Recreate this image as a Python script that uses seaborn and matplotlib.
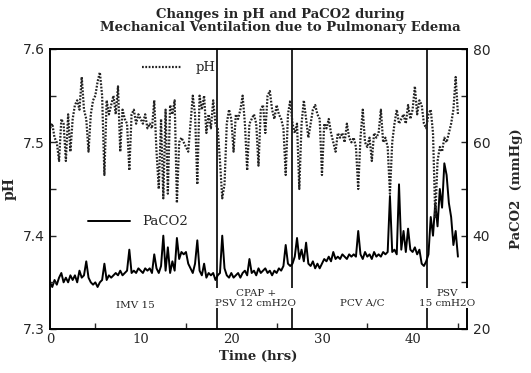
import numpy as np
import pandas as pd
import seaborn as sns
import matplotlib
matplotlib.use("Agg")
import matplotlib.pyplot as plt
from matplotlib.ticker import MultipleLocator

# ---------------- data (one row = one hour, 15-min samples) ----
sample_step_hrs = 0.25
ph_values = [
    7.515, 7.520, 7.505, 7.500,
    7.480, 7.525, 7.520, 7.480,
    7.530, 7.490, 7.525, 7.540,
    7.545, 7.535, 7.570, 7.535,
    7.525, 7.490, 7.530, 7.545,
    7.550, 7.565, 7.575, 7.550,
    7.465, 7.545, 7.530, 7.540,
    7.550, 7.530, 7.560, 7.490,
    7.535, 7.525, 7.520, 7.470,
    7.530, 7.535, 7.520, 7.530,
    7.525, 7.520, 7.530, 7.515,
    7.520, 7.515, 7.545, 7.490,
    7.450, 7.525, 7.440, 7.535,
    7.445, 7.540, 7.530, 7.545,
    7.435, 7.500, 7.505, 7.500,
    7.495, 7.490, 7.520, 7.550,
    7.530, 7.455, 7.550, 7.535,
    7.550, 7.510, 7.530, 7.515,
    7.545, 7.520, 7.515, 7.480,
    7.440, 7.455, 7.520, 7.535,
    7.525, 7.490, 7.530, 7.525,
    7.535, 7.550, 7.520, 7.470,
    7.520, 7.525, 7.530, 7.520,
    7.475, 7.535, 7.540, 7.510,
    7.550, 7.555, 7.535, 7.525,
    7.540, 7.530, 7.525, 7.515,
    7.465, 7.530, 7.545, 7.520,
    7.510, 7.520, 7.450, 7.520,
    7.545, 7.525, 7.505, 7.520,
    7.535, 7.540, 7.530, 7.525,
    7.465, 7.520, 7.515, 7.525,
    7.510, 7.500, 7.490, 7.510,
    7.505, 7.510, 7.500, 7.520,
    7.505, 7.500, 7.505, 7.495,
    7.450, 7.505, 7.535, 7.500,
    7.495, 7.505, 7.480, 7.510,
    7.505, 7.510, 7.535, 7.500,
    7.505, 7.495, 7.445, 7.500,
    7.520, 7.535, 7.520, 7.525,
    7.530, 7.520, 7.540, 7.525,
    7.535, 7.560, 7.530, 7.545,
    7.540, 7.520, 7.515, 7.530,
    7.535, 7.510, 7.420, 7.480,
    7.495, 7.490, 7.505, 7.500,
    7.510, 7.520, 7.535, 7.570,
    7.530,
]
paco2_values = [
    30.0, 29.0, 30.5, 29.5,
    31.0, 32.0, 30.0, 31.0,
    30.0, 31.5, 30.5, 31.5,
    30.0, 32.5, 31.0, 31.5,
    34.5, 31.0, 30.0, 29.5,
    30.0, 29.0, 30.0, 30.5,
    34.0, 30.5, 31.5, 31.0,
    31.5, 32.0, 31.5, 32.5,
    31.5, 32.0, 32.5, 37.0,
    32.0, 32.5, 32.0, 33.0,
    32.5, 32.0, 33.0, 32.5,
    33.0, 32.0, 36.0, 33.0,
    32.0, 33.5, 40.0, 32.5,
    37.5, 32.0, 34.5, 32.5,
    39.5, 35.0, 36.5, 36.0,
    36.5, 34.0, 33.0, 32.0,
    34.0, 39.0, 32.5, 31.5,
    34.0, 31.0, 32.0, 31.5,
    32.0, 30.5, 31.5, 32.0,
    40.0, 33.0, 31.5, 31.0,
    32.0, 31.0, 31.5, 32.0,
    31.0, 32.0, 32.5, 31.5,
    35.0, 32.0, 32.5, 31.5,
    33.0, 32.0, 32.5, 33.0,
    32.0, 32.5, 31.5, 32.5,
    32.0, 33.0, 32.5, 33.5,
    38.0, 34.0, 33.5, 34.0,
    35.5, 39.5, 35.0, 37.0,
    34.5, 38.5, 34.0, 33.5,
    34.5, 33.0, 34.0, 33.0,
    34.0, 35.0, 34.5, 35.5,
    34.5, 36.5, 35.0, 35.5,
    35.0, 36.0, 35.5, 35.0,
    36.0, 35.5, 36.0, 35.5,
    41.0, 36.0, 35.0, 36.5,
    35.5, 36.0, 35.0, 36.5,
    35.5, 36.0, 35.5, 36.5,
    36.0, 36.5, 48.5, 36.5,
    37.0, 36.0, 51.0, 37.0,
    41.0, 36.5, 41.5, 37.0,
    36.5, 37.5, 36.0, 37.0,
    34.0, 33.5, 34.5, 36.0,
    44.0, 40.0, 47.0, 42.0,
    50.0, 46.0, 55.5, 53.0,
    47.0, 44.0, 38.0, 41.0,
    35.5,
]
time_hrs = np.arange(len(ph_values)) * sample_step_hrs

mode_change_hrs = [18.4, 26.7, 41.6]
mode_labels = ["IMV 15", "CPAP +\nPSV 12 cmH2O", "PCV A/C", "PSV\n15 cmH2O"]
mode_label_hrs = [9.4, 22.7, 34.4, 43.8]

title_text = "Changes in pH and PaCO2 during\nMechanical Ventilation due to Pulmonary Edema"

df = pd.DataFrame({"Time (hrs)": time_hrs, "pH": ph_values, "PaCO2": paco2_values})

# ---------------- figure ----------------
sns.set_style("ticks")
plt.rcParams["font.family"] = ["DejaVu Serif"]
plt.rcParams["axes.linewidth"] = 1.2

W, H = 531, 373
fig = plt.figure(figsize=(W / 100, H / 100), dpi=100)
ax = fig.add_axes([50 / W, 1 - 329 / H, 417 / W, 280 / H])
ax2 = ax.twinx()

sns.lineplot(data=df, x="Time (hrs)", y="PaCO2", ax=ax2, color="black",
             linewidth=1.4, label="PaCO2", legend=False)
sns.lineplot(data=df, x="Time (hrs)", y="pH", ax=ax, color="#222222",
             linestyle=(0, (0.8, 0.7)), linewidth=1.6, label="pH", legend=False)

ax.set_zorder(ax2.get_zorder() + 1)
ax.patch.set_visible(False)

for t in mode_change_hrs:
    ax.axvline(t, color="black", linewidth=1.2, zorder=1)

ax.set_xlim(0, 46)
ax.set_ylim(7.3, 7.6)
ax2.set_ylim(20, 80)
ax.set_yticks([7.3, 7.4, 7.5, 7.6])
ax.set_yticklabels(["7.3", "7.4", "7.5", "7.6"])
ax2.set_yticks([20, 40, 60, 80])
ax.set_xticks([0, 10, 20, 30, 40])
ax.xaxis.set_minor_locator(MultipleLocator(5))
ax.yaxis.set_minor_locator(MultipleLocator(0.05))
ax2.yaxis.set_minor_locator(MultipleLocator(10))

ax.tick_params(axis="both", which="both", direction="in", length=4, width=1)
ax.tick_params(axis="x", which="major", length=0, labelsize=9.5, pad=3)
ax.tick_params(axis="y", which="major", labelsize=10, labelfontfamily="DejaVu Sans", pad=4)
ax2.tick_params(axis="y", which="both", direction="in", length=4, width=1,
                labelsize=10, labelfontfamily="DejaVu Sans", pad=4)

for sp in ax.spines.values():
    sp.set_color("black")
for sp in ax2.spines.values():
    sp.set_color("black")

ax.set_xlabel("Time (hrs)", fontsize=9.5, fontweight="bold", labelpad=3)
ax.set_ylabel("pH", fontsize=10, fontweight="bold", labelpad=4)
ax2.set_ylabel("PaCO2  (mmHg)", fontsize=9.5, fontweight="bold", labelpad=14)

# mode annotations
box = dict(facecolor="white", edgecolor="none", pad=0.6)
label_y = [7.3256, 7.3330, 7.3280, 7.3330]
for txt, tx, ty in zip(mode_labels, mode_label_hrs, label_y):
    ax.text(tx, ty, txt, ha="center", va="center", fontsize=7.5,
            linespacing=1.1, bbox=box, zorder=5)

# legends
leg1 = ax.legend(loc="center left", bbox_to_anchor=(142 / W, 1 - 68 / H),
                 bbox_transform=fig.transFigure, frameon=False, fontsize=9.5,
                 handlelength=3.0, handletextpad=1.1, borderpad=0, borderaxespad=0)
leg2 = ax2.legend(loc="center left", bbox_to_anchor=(88 / W, 1 - 222 / H),
                  bbox_transform=fig.transFigure, frameon=False, fontsize=9.5,
                  handlelength=3.2, handletextpad=0.9, borderpad=0, borderaxespad=0)

fig.text(280 / W, 1 - 21 / H, title_text, ha="center", va="center",
         fontsize=9.5, fontweight="bold", linespacing=1.05)

fig.savefig("out.png", dpi=100)
